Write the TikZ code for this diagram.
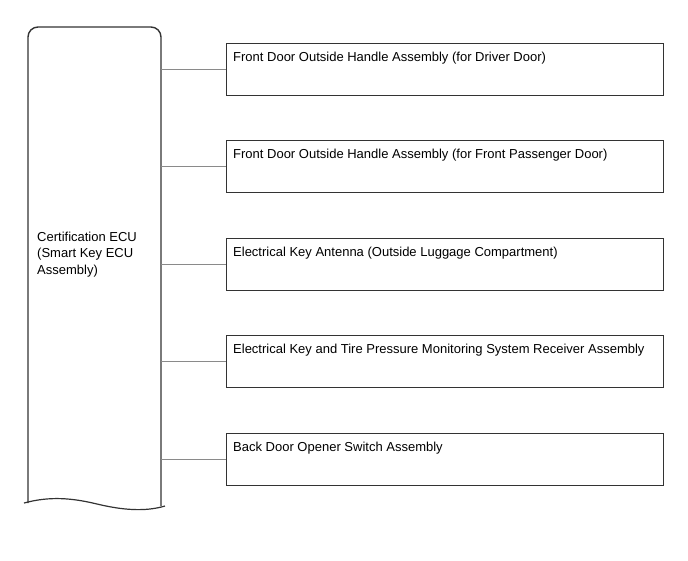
\documentclass[tikz,border=0pt]{standalone}
\usepackage{fontspec}
\setmainfont{Liberation Sans}
\definecolor{boxline}{HTML}{333333}
\definecolor{linkline}{HTML}{8A8A8A}
\begin{document}
\begin{tikzpicture}[x=1pt,y=-1pt,
  partbox/.style={draw=boxline,line width=1.4pt,minimum width=437pt,minimum height=52pt,anchor=north west,inner sep=0pt},
  parttext/.style={anchor=base west,inner sep=0pt,font=\fontsize{13}{16}\selectfont},
  link/.style={draw=linkline,line width=1.2pt}]
\useasboundingbox (0,0) rectangle (688,560);
% ECU outline
\node[draw=none,minimum width=133pt,minimum height=477pt,anchor=north west,inner sep=0pt] (ecu) at (28,27) {};
\draw[boxline,line width=1.4pt] (28,503) -- (28,37) arc[start angle=180,end angle=270,radius=10] -- (151,27) arc[start angle=270,end angle=360,radius=10] -- (161,506);
\draw[boxline,line width=1.2pt] (24,503) .. controls (50,496) and (72,498) .. (97,504) .. controls (122,510) and (145,512) .. (165,506);
\node[anchor=north west,align=left,inner sep=0pt,font=\fontsize{13}{16.5}\selectfont] (ecutext) at (37,231.5) {Certification ECU\\(Smart Key ECU\\Assembly)};
% part boxes
\node[partbox] (b1) at (226,43) {};
\node[partbox] (b2) at (226,140) {};
\node[partbox] (b3) at (226,238) {};
\node[partbox] (b4) at (226,335) {};
\node[partbox] (b5) at (226,433) {};
\node[parttext] (t1) at (233,61) {Front Door Outside Handle Assembly (for Driver Door)};
\node[parttext] (t2) at (233,158) {Front Door Outside Handle Assembly (for Front Passenger Door)};
\node[parttext] (t3) at (233,256) {Electrical Key Antenna (Outside Luggage Compartment)};
\node[parttext] (t4) at (233,353) {Electrical Key and Tire Pressure Monitoring System Receiver Assembly};
\node[parttext] (t5) at (233,451) {Back Door Opener Switch Assembly};
% connectors
\foreach \b in {b1,b2,b3,b4,b5}{
  \draw[link] (ecu.east |- \b.west) -- (\b.west);
}
\end{tikzpicture}
\end{document}
